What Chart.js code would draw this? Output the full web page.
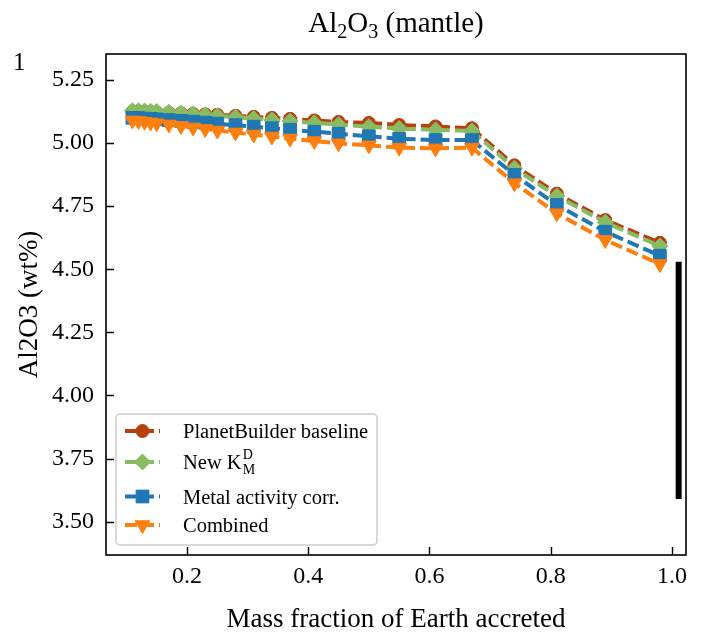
<!DOCTYPE html>
<html lang="en">
<head>
<meta charset="UTF-8">
<title>Al2O3 (mantle)</title>
<script src="https://cdn.jsdelivr.net/npm/chart.js"></script>
<style>
  html, body { margin: 0; padding: 0; background: #fff; }
  #wrap { width: 705px; height: 635px; }
</style>
</head>
<body>
<div id="wrap"><canvas id="myChart" width="705" height="635"></canvas></div>
<script>
// mass fraction of Earth accreted (x) for every step
const massFraction = [0.11, 0.12, 0.13, 0.14, 0.15, 0.17, 0.19, 0.21, 0.23, 0.25, 0.28, 0.31,
                      0.34, 0.37, 0.41, 0.45, 0.50, 0.55, 0.61, 0.67, 0.74, 0.81, 0.89, 0.98];

// Al2O3 in the mantle, wt%
const baseline = [5.125, 5.125, 5.124, 5.123, 5.122, 5.120, 5.118, 5.116, 5.114, 5.112, 5.108, 5.104,
                  5.100, 5.096, 5.090, 5.084, 5.080, 5.072, 5.066, 5.059, 4.912, 4.800, 4.695, 4.605];
const newKd    = [5.128, 5.128, 5.127, 5.126, 5.125, 5.122, 5.119, 5.116, 5.112, 5.108, 5.103, 5.097,
                  5.092, 5.087, 5.080, 5.073, 5.065, 5.058, 5.052, 5.048, 4.900, 4.790, 4.686, 4.592];
const metalAct = [5.100, 5.099, 5.097, 5.096, 5.094, 5.091, 5.088, 5.085, 5.081, 5.077, 5.071, 5.065,
                  5.059, 5.053, 5.045, 5.037, 5.027, 5.017, 5.012, 5.012, 4.874, 4.755, 4.649, 4.554];
const combined = [5.090, 5.088, 5.085, 5.082, 5.079, 5.074, 5.068, 5.062, 5.056, 5.050, 5.042, 5.034,
                  5.026, 5.018, 5.008, 4.999, 4.991, 4.982, 4.979, 4.982, 4.841, 4.722, 4.616, 4.521];

// observed range bar at the right
const barX = [1.011, 1.011];
const barY = [4.53, 3.59];

const xTicks = [0.2, 0.4, 0.6, 0.8, 1.0];
const yTicks = [3.50, 3.75, 4.00, 4.25, 4.50, 4.75, 5.00, 5.25];

const seriesNames = ['PlanetBuilder baseline', 'New K', 'Metal activity corr.', 'Combined'];
const seriesData = [baseline, newKd, metalAct, combined];

const colors = ['#b8400d', '#89bb63', '#1f77b4', '#ff7f0e'];
const markers = [
  { style: 'circle', r: 6.5, rot: 0 },
  { style: 'rectRot', r: 8, rot: 0 },
  { style: 'rect', r: 9, rot: 0 },
  { style: 'triangle', r: 8.5, rot: 180 }
];
const serif = "'Liberation Serif', 'DejaVu Serif', serif";
const dash = [12, 5];

const ctx = document.getElementById('myChart').getContext('2d');

const datasets = seriesData.map((vals, i) => ({
  label: seriesNames[i],
  data: massFraction.map((m, j) => ({ x: m, y: vals[j] })),
  borderColor: colors[i],
  backgroundColor: colors[i],
  borderWidth: 4,
  borderDash: dash,
  pointStyle: markers[i].style,
  pointRadius: markers[i].r,
  pointRotation: markers[i].rot,
  pointBackgroundColor: colors[i],
  pointBorderColor: colors[i],
  pointBorderWidth: 1,
  tension: 0,
  order: 4 - i
}));

datasets.push({
  label: 'range',
  data: barX.map((b, j) => ({ x: b, y: barY[j] })),
  borderColor: '#000',
  borderWidth: 6,
  borderCapStyle: 'butt',
  pointRadius: 0,
  order: 5
});

// draws the frame, inward ticks, title, legend
const decor = {
  id: 'decor',
  afterDraw(chart) {
    const { ctx, chartArea: a, scales: { x, y } } = chart;
    ctx.save();
    ctx.strokeStyle = '#000';
    ctx.lineWidth = 1.6;
    ctx.strokeRect(a.left, a.top, a.right - a.left, a.bottom - a.top);

    ctx.lineWidth = 1.4;
    ctx.beginPath();
    xTicks.forEach(v => {
      const px = Math.round(x.getPixelForValue(v)) + 0.5;
      ctx.moveTo(px, a.bottom);
      ctx.lineTo(px, a.bottom - 8);
    });
    yTicks.forEach(v => {
      const py = Math.round(y.getPixelForValue(v)) + 0.5;
      ctx.moveTo(a.left, py);
      ctx.lineTo(a.left + 8, py);
    });
    ctx.stroke();

    // title with subscripts
    ctx.fillStyle = '#000';
    ctx.textBaseline = 'alphabetic';
    const big = '29px ' + serif, small = '20px ' + serif;
    const parts = [['Al', big, 0], ['2', small, 6], ['O', big, 0], ['3', small, 6], [' (mantle)', big, 0]];
    let w = 0;
    parts.forEach(p => { ctx.font = p[1]; w += ctx.measureText(p[0]).width; });
    let tx = (a.left + a.right) / 2 - w / 2;
    parts.forEach(p => {
      ctx.font = p[1];
      ctx.fillText(p[0], tx, 32 + p[2]);
      tx += ctx.measureText(p[0]).width;
    });

    ctx.font = '25px ' + serif;
    ctx.fillText('1', 13, 70);

    // legend
    const lx = 116, ly = 414, lw = 261, lh = 131;
    ctx.beginPath();
    ctx.roundRect(lx, ly, lw, lh, 4);
    ctx.fillStyle = 'rgba(255,255,255,0.8)';
    ctx.fill();
    ctx.strokeStyle = '#cccccc';
    ctx.lineWidth = 1.5;
    ctx.stroke();

    const rows = [431, 462, 496.5, 525];
    rows.forEach((ry, i) => {
      ctx.strokeStyle = colors[i];
      ctx.lineWidth = 4;
      ctx.setLineDash(dash);
      ctx.beginPath();
      ctx.moveTo(125, ry);
      ctx.lineTo(160, ry);
      ctx.stroke();
      ctx.setLineDash([]);
      ctx.fillStyle = colors[i];
      ctx.strokeStyle = colors[i];
      ctx.lineWidth = 1;
      Chart.helpers.drawPoint(ctx, {
        pointStyle: markers[i].style,
        rotation: markers[i].rot,
        radius: markers[i].r,
        borderWidth: 1
      }, 142.5, ry);

      ctx.fillStyle = '#000';
      ctx.font = '20.5px ' + serif;
      ctx.textBaseline = 'alphabetic';
      ctx.fillText(seriesNames[i], 183, ry + 7);
      if (i === 1) {
        const kx = 183 + ctx.measureText(seriesNames[i]).width + 1;
        ctx.font = '14px ' + serif;
        ctx.fillText('D', kx, ry - 3);
        ctx.fillText('M', kx, ry + 12);
      }
    });
    ctx.restore();
  }
};

new Chart(ctx, {
  type: 'line',
  data: { datasets },
  options: {
    responsive: false,
    animation: false,
    layout: { padding: { top: 54, right: 19, left: 0, bottom: 0 } },
    plugins: { legend: { display: false }, tooltip: { enabled: false } },
    scales: {
      x: {
        type: 'linear',
        min: 0.0664,
        max: 1.0231,
        afterBuildTicks: s => { s.ticks = xTicks.map(v => ({ value: v })); },
        afterFit: s => { s.height = 80; },
        grid: { display: false, drawTicks: false },
        border: { display: false },
        ticks: {
          autoSkip: false, maxRotation: 0, padding: 7, color: '#000',
          font: { family: serif, size: 24 },
          callback: v => v.toFixed(1)
        },
        title: {
          display: true, text: 'Mass fraction of Earth accreted', color: '#000',
          font: { family: serif, size: 27 }, padding: { top: 0, bottom: -1 }
        }
      },
      y: {
        min: 3.368,
        max: 5.353,
        afterBuildTicks: s => { s.ticks = yTicks.map(v => ({ value: v })); },
        afterFit: s => { s.width = 106; },
        grid: { display: false, drawTicks: false },
        border: { display: false },
        ticks: {
          autoSkip: false, padding: 12, color: '#000',
          font: { family: serif, size: 24 },
          callback: v => v.toFixed(2)
        },
        title: {
          display: true, text: 'Al2O3 (wt%)', color: '#000',
          font: { family: serif, size: 27 }, padding: { top: 14, bottom: 0 }
        }
      }
    }
  },
  plugins: [decor]
});
</script>
</body>
</html>
